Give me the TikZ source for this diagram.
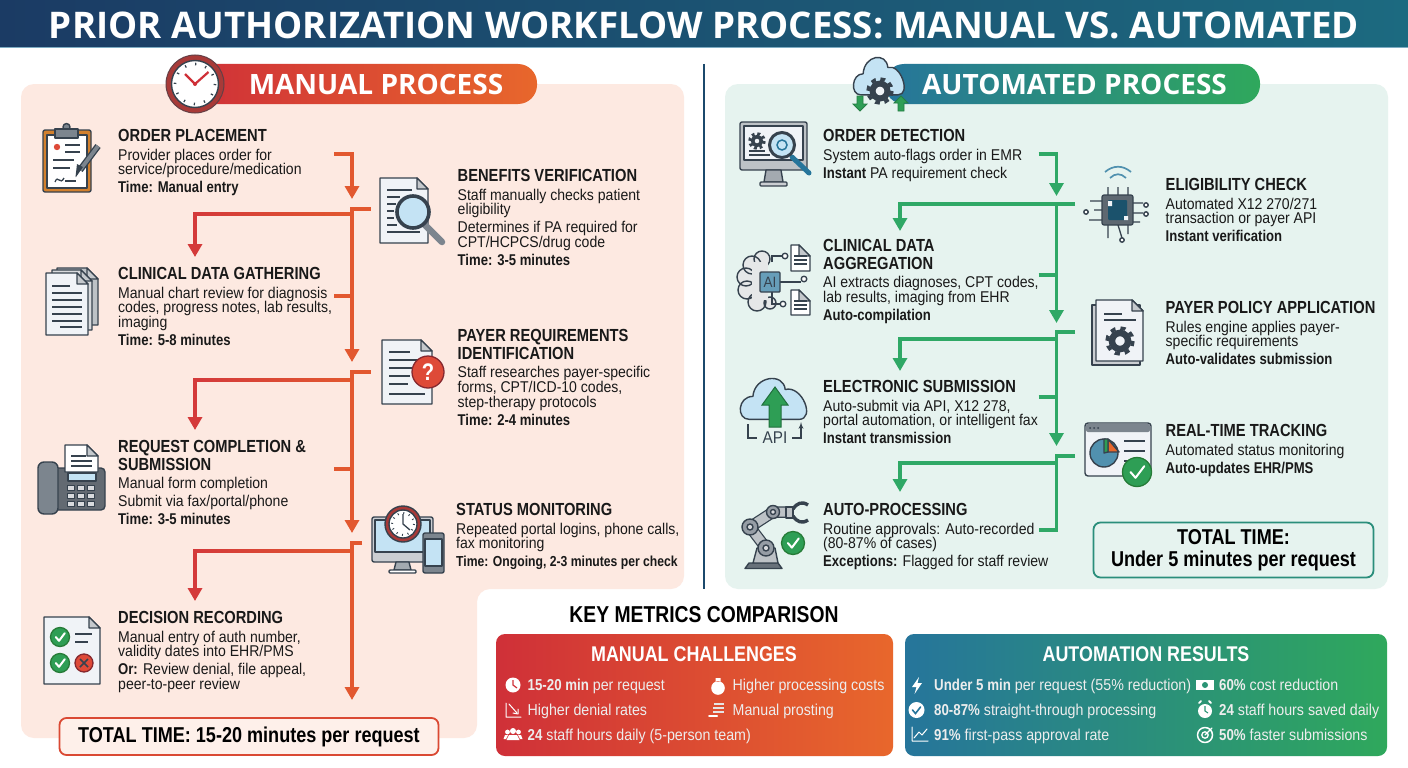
\documentclass[tikz,border=0pt]{standalone}
\usepackage{fontspec}
\setmainfont[FakeStretch=0.90,BoldFeatures={FakeStretch=0.84}]{Liberation Sans}
\newfontfamily\headfont{Open Sans}
\usetikzlibrary{shapes,arrows,arrows.meta}

\definecolor{barleft}{HTML}{1B3B64}
\definecolor{barright}{HTML}{1C6A80}
\definecolor{manred}{HTML}{CF3038}
\definecolor{manorange}{HTML}{E8672C}
\definecolor{autoblue}{HTML}{26759B}
\definecolor{autogreen}{HTML}{2FA85C}
\definecolor{manpanel}{HTML}{FDE9E1}
\definecolor{autopanel}{HTML}{E6F3EF}
\definecolor{lineman}{HTML}{E2582F}
\definecolor{linebranch}{HTML}{D43A3A}
\definecolor{lineauto}{HTML}{2FA866}
\definecolor{icoline}{HTML}{36424E}
\definecolor{icogray}{HTML}{7C858E}
\definecolor{icopage}{HTML}{F0F3F7}
\definecolor{icoblue}{HTML}{C4E3F4}
\definecolor{icogreen}{HTML}{2E9E55}
\definecolor{icored}{HTML}{DE4A38}
\definecolor{clockred}{HTML}{A83A38}

\newcommand{\stitle}[1]{{\fontsize{17.5}{17.5}\selectfont\bfseries #1}}
\newcommand{\stime}[1]{{\bfseries #1}}

\tikzstyle{steptext} = [anchor=north west, align=left, inner sep=0pt, text=black!90, font=\fontsize{15.6}{14.7}\selectfont\lineskiplimit -20pt ]
\tikzstyle{headtext} = [text=white, inner sep=0pt, font=\headfont\bfseries\fontsize{28}{28}\selectfont]
\tikzstyle{boxhead} = [text=white, inner sep=0pt, font=\bfseries\fontsize{21.3}{21.3}\selectfont]
\tikzstyle{metric} = [anchor=base west, inner sep=0pt, text=white!93!black, font=\fontsize{15.8}{15.8}\selectfont]
\tikzstyle{totalbox} = [rectangle, draw, rounded corners=7, line width=1.8, inner sep=0pt, align=center, font=\bfseries\fontsize{21.5}{22}\selectfont\lineskiplimit -20pt ]
\tikzstyle{lman} = [draw=lineman, line width=3.4, -{Triangle[length=13,width=14]}]
\tikzstyle{lbranch} = [draw=linebranch, line width=3.4, -{Triangle[length=13,width=14]}]
\tikzstyle{lauto} = [draw=lineauto, line width=3.2, -{Triangle[length=13,width=14]}]
\tikzstyle{stubman} = [draw=lineman, line width=3.4]
\tikzstyle{stubauto} = [draw=lineauto, line width=3.2]
\tikzstyle{ico} = [draw=icoline, line width=1.4, line join=round]
\tikzstyle{icothin} = [draw=icoline, line width=1.3]
\tikzstyle{wht} = [draw=white, line width=1.4, line cap=round, line join=round]

% page with a folded corner
\newcommand{\pageicon}[5]{
\draw [ico, fill=#5] (#1,#2) -- (#1+#3-11,#2) -- (#1+#3,#2+11) -- (#1+#3,#2+#4) -- (#1,#2+#4) -- cycle;
\draw [ico, fill=icogray!45] (#1+#3-11,#2) -- (#1+#3-11,#2+11) -- (#1+#3,#2+11) -- cycle;
}
% green disc with a tick
\newcommand{\okicon}[3]{
\draw [draw=icoline!70!green, line width=1.3, fill=icogreen] (#1,#2) circle (#3);
\draw [draw=white, line width=2, line cap=round, line join=round] (#1-0.45*#3,#2) -- (#1-0.1*#3,#2+0.4*#3) -- (#1+0.5*#3,#2-0.4*#3);
}
% toothed wheel
\newcommand{\gearicon}[3]{
\draw [draw=icoline, line width=3.5, dash pattern=on {0.393*#3pt} off {0.393*#3pt}] (#1,#2) circle (#3);
\draw [draw=icoline, fill=icopage, line width=0.5*#3] (#1,#2) circle (0.62*#3);
}
% cloud around its centre
\newcommand{\cloudicon}[4]{
\draw [ico, fill=icoblue] (#1-0.75*#3,#2+0.8*#4) .. controls (#1-1.15*#3,#2+0.8*#4) and (#1-1.1*#3,#2-0.2*#4) .. (#1-0.65*#3,#2-0.2*#4) .. controls (#1-0.6*#3,#2-1.1*#4) and (#1+0.25*#3,#2-1.25*#4) .. (#1+0.3*#3,#2-0.5*#4) .. controls (#1+0.8*#3,#2-0.7*#4) and (#1+1.2*#3,#2+0.8*#4) .. (#1+0.7*#3,#2+0.8*#4) -- cycle;
}

\begin{document}
\begin{tikzpicture}[x=1pt,y=-1pt]
\useasboundingbox (0,0) rectangle (1408,768);

% backgrounds
\path [fill=white] (0,0) rectangle (1408,768);
\shade [left color=barleft, right color=barright] (0,0) rectangle (1408,47);
\fill [autoblue!60!white] (0,47) rectangle (1408,48);
\fill [manpanel, rounded corners=13] (21,84) -- (684,84) -- (684,589) -- (477,589) -- (477,738) -- (21,738) -- cycle;
\fill [autopanel, rounded corners=13] (725,84) rectangle (1388,589);
\draw [draw=barleft!70!barright, line width=2.6] (704,64) -- (704,589);
\shade [left color=manred, right color=manorange, rounded corners=19] (190,64) rectangle (537,104);
\shade [left color=autoblue, right color=autogreen, rounded corners=19] (885,64) rectangle (1260,104);
\shade [left color=manred, right color=manorange, rounded corners=9] (496,634) rectangle (893,756);
\shade [left color=autoblue, right color=autogreen, rounded corners=9] (905,634) rectangle (1387,756);

\node [headtext, font=\headfont\bfseries\fontsize{36.7}{36.7}\selectfont] (title) at (704,25) {PRIOR AUTHORIZATION WORKFLOW PROCESS: MANUAL VS. AUTOMATED};
\node [headtext] (man_head) at (376,84) {MANUAL PROCESS};
\node [headtext] (auto_head) at (1074.5,84) {AUTOMATED PROCESS};

% manual steps
\node [steptext] (order) at (118,129) {\stitle{ORDER PLACEMENT}\\[3.9pt]Provider places order for\\service/procedure/medication\\[3.3pt]\stime{Time: Manual entry}};
\node [steptext] (clinical) at (118,267) {\stitle{CLINICAL DATA GATHERING}\\[3.9pt]Manual chart review for diagnosis\\codes, progress notes, lab results,\\imaging\\[3.3pt]\stime{Time: 5-8 minutes}};
\node [steptext] (request) at (118,440) {\stitle{REQUEST COMPLETION \&}\\[3.2pt]\stitle{SUBMISSION}\\[3.9pt]Manual form completion\\[3.3pt]Submit via fax/portal/phone\\[3.3pt]\stime{Time: 3-5 minutes}};
\node [steptext] (decision) at (118,611) {\stitle{DECISION RECORDING}\\[3.9pt]Manual entry of auth number,\\validity dates into EHR/PMS\\[3.3pt]\stime{Or:} Review denial, file appeal,\\peer-to-peer review};
\node [steptext] (benefits) at (457.5,169) {\stitle{BENEFITS VERIFICATION}\\[3.9pt]Staff manually checks patient\\eligibility\\[3.3pt]Determines if PA required for\\CPT/HCPCS/drug code\\[3.3pt]\stime{Time: 3-5 minutes}};
\node [steptext] (payer) at (457.5,329) {\stitle{PAYER REQUIREMENTS}\\[3.2pt]\stitle{IDENTIFICATION}\\[3.9pt]Staff researches payer-specific\\forms, CPT/ICD-10 codes,\\step-therapy protocols\\[3.3pt]\stime{Time: 2-4 minutes}};
\node [steptext] (status) at (456,503) {\stitle{STATUS MONITORING}\\[3.9pt]Repeated portal logins, phone calls,\\fax monitoring\\[3.3pt]{\fontsize{14.5}{14.7}\selectfont\stime{Time: Ongoing, 2-3 minutes per check}}};

% automated steps
\node [steptext] (detect) at (823,129) {\stitle{ORDER DETECTION}\\[3.9pt]System auto-flags order in EMR\\[3.3pt]\stime{Instant} PA requirement check};
\node [steptext] (aggreg) at (823,239) {\stitle{CLINICAL DATA}\\[3.2pt]\stitle{AGGREGATION}\\[3.9pt]AI extracts diagnoses, CPT codes,\\lab results, imaging from EHR\\[3.3pt]\stime{Auto-compilation}};
\node [steptext] (submit) at (823,380) {\stitle{ELECTRONIC SUBMISSION}\\[3.9pt]Auto-submit via API, X12 278,\\portal automation, or intelligent fax\\[3.3pt]\stime{Instant transmission}};
\node [steptext] (autoproc) at (823,503) {\stitle{AUTO-PROCESSING}\\[3.9pt]Routine approvals: Auto-recorded\\(80-87\% of cases)\\[3.3pt]\stime{Exceptions:} Flagged for staff review};
\node [steptext] (elig) at (1165.5,178) {\stitle{ELIGIBILITY CHECK}\\[3.9pt]Automated X12 270/271\\transaction or payer API\\[3.3pt]\stime{Instant verification}};
\node [steptext] (policy) at (1165.5,301) {\stitle{PAYER POLICY APPLICATION}\\[3.9pt]Rules engine applies payer-\\specific requirements\\[3.3pt]\stime{Auto-validates submission}};
\node [steptext] (track) at (1165.5,424) {\stitle{REAL-TIME TRACKING}\\[3.9pt]Automated status monitoring\\[3.3pt]\stime{Auto-updates EHR/PMS}};

% totals
\node [totalbox, draw=manred!55!manorange, fill=manpanel!70!white, minimum width=379, minimum height=37] (total_man) at (249,736.5) {TOTAL TIME: 15-20 minutes per request};
\node [totalbox, draw=autoblue!50!autogreen, fill=autopanel, minimum width=280, minimum height=55] (total_auto) at (1233.5,550) {TOTAL TIME:\\Under 5 minutes per request};

% metrics
\node [font=\bfseries\fontsize{23}{23}\selectfont, inner sep=0pt] (metrics) at (704,615) {KEY METRICS COMPARISON};
\node [boxhead] (challenges) at (694,654) {MANUAL CHALLENGES};
\node [boxhead] (results) at (1146,654) {AUTOMATION RESULTS};
\node [metric] (m1) at (527.5,690.5) {\textbf{15-20 min} per request};
\node [metric] (m2) at (527.5,715.5) {Higher denial rates};
\node [metric] (m3) at (527.5,740.5) {\textbf{24} staff hours daily (5-person team)};
\node [metric] (m4) at (732.5,690.5) {Higher processing costs};
\node [metric] (m5) at (732.5,715.5) {Manual prosting};
\node [metric] (r1) at (934,690.5) {\textbf{Under 5 min} per request (55\% reduction)};
\node [metric] (r2) at (934,715.5) {\textbf{80-87\%} straight-through processing};
\node [metric] (r3) at (934,740.5) {\textbf{91\%} first-pass approval rate};
\node [metric] (r4) at (1219,690.5) {\textbf{60\%} cost reduction};
\node [metric] (r5) at (1219,715.5) {\textbf{24} staff hours saved daily};
\node [metric] (r6) at (1219,740.5) {\textbf{50\%} faster submissions};

% connector ends, manual side
\coordinate (order_out) at (334,154);
\coordinate (benefits_in) at (352,199);
\coordinate (benefits_out) at (370.5,209);
\coordinate (payer_in) at (352,362);
\coordinate (fork1) at (352,214);
\coordinate (clinical_in) at (195,257);
\coordinate (clinical_out) at (334,296);
\coordinate (join1) at (352,296);
\coordinate (payer_out) at (370.5,372);
\coordinate (status_in) at (352,533);
\coordinate (fork2) at (352,380);
\coordinate (request_in) at (195,430);
\coordinate (request_out) at (334,469);
\coordinate (join2) at (352,469);
\coordinate (status_out) at (362,543);
\coordinate (total_in) at (352,700);
\coordinate (fork3) at (352,551);
\coordinate (decision_in) at (195,601);

% connector ends, automated side
\coordinate (detect_out) at (1038.5,154);
\coordinate (elig_in) at (1056.5,196);
\coordinate (elig_out) at (1075,204);
\coordinate (policy_in) at (1056.5,323);
\coordinate (fork4) at (1056.5,204);
\coordinate (aggreg_in) at (900,231);
\coordinate (aggreg_out) at (1038.5,275);
\coordinate (join4) at (1056.5,275);
\coordinate (policy_out) at (1075,332);
\coordinate (track_in) at (1056.5,446);
\coordinate (fork5) at (1056.5,339);
\coordinate (submit_in) at (900,371);
\coordinate (submit_out) at (1038.5,397);
\coordinate (join5) at (1056.5,397);
\coordinate (track_out) at (1075,456);
\coordinate (proc_corner) at (1056.5,530);
\coordinate (proc_out) at (1038.5,530);
\coordinate (fork6) at (1056.5,463);
\coordinate (proc_in) at (900,492);

% arrows
\path [lman] (order_out) -| (benefits_in);
\path [lman] (benefits_out) -| (payer_in);
\path [lbranch] (fork1) -| (clinical_in);
\path [stubman] (clinical_out) -- (join1);
\path [lman] (payer_out) -| (status_in);
\path [lbranch] (fork2) -| (request_in);
\path [stubman] (request_out) -- (join2);
\path [lman] (status_out) -| (total_in);
\path [lbranch] (fork3) -| (decision_in);

\shade [left color=linebranch, right color=lineman] (200,212.3) rectangle (352,215.7);
\shade [left color=linebranch, right color=lineman] (200,378.3) rectangle (352,381.7);
\shade [left color=linebranch, right color=lineman] (200,549.3) rectangle (352,552.7);

\path [lauto] (detect_out) -| (elig_in);
\path [lauto] (elig_out) -| (policy_in);
\path [lauto] (fork4) -| (aggreg_in);
\path [stubauto] (aggreg_out) -- (join4);
\path [lauto] (policy_out) -| (track_in);
\path [lauto] (fork5) -| (submit_in);
\path [stubauto] (submit_out) -- (join5);
\path [stubauto] (track_out) -| (proc_corner) -- (proc_out);
\path [lauto] (fork6) -| (proc_in);

% header icons
\draw [draw=icoline!60!clockred, line width=1, fill=clockred] (195,84) circle (29);
\draw [ico, fill=white] (195,84) circle (23.5);
\draw [draw=icoline, line width=2.6, dash pattern=on 1.2pt off 9.27pt] (195,84) circle (20);
\draw [draw=manred, line width=2.2, line join=round] (185,74) -- (195,84) -- (208.5,72);
\fill [manred] (195,84) circle (2);

\cloudicon{880}{78}{26}{21}
\gearicon{880}{91}{12}
\draw [draw=icogreen!80!black, fill=icogreen, line width=0.8] (857,96) -- (857,104) -- (853,104) -- (860,111) -- (867,104) -- (863,104) -- (863,96) -- cycle;
\draw [draw=icogreen!80!black, fill=icogreen, line width=0.8] (898,111) -- (898,103) -- (894,103) -- (901,96) -- (908,103) -- (904,103) -- (904,111) -- cycle;

% clipboard
\draw [ico, fill=brown!70!orange, rounded corners=2] (43,130) rectangle (91,192);
\draw [ico, fill=white] (47,135) rectangle (87,188);
\draw [ico, fill=icogray] (66.5,127) circle (3.5);
\draw [ico, fill=icogray] (55,129) rectangle (78,138);
\fill [icored] (57,147) circle (3.2);
\draw [icothin] (65,145) -- (80,145) (65,152) -- (80,152) (53,160) -- (74,160) (53,168) -- (70,168) (65,181) -- (76,181);
\draw [icothin] (55,182) .. controls (58,174) and (60,186) .. (64,178);
\draw [draw=icoline, line width=6.5] (98,146) -- (80,170);
\draw [draw=icogray, line width=3.8] (98,146) -- (80,170);
\fill [icoline] (83,167) -- (76,177) -- (75.5,177) -- (77,164) -- cycle;

% page stack
\pageicon{57}{268}{41}{57}{icogray!50}
\pageicon{52}{270}{40}{60}{icogray!30}
\pageicon{46}{273}{42}{62}{icopage}
\draw [icothin] (52,286) -- (70,286) (52,293) -- (82,293) (52,300) -- (82,300) (52,307) -- (82,307) (52,314) -- (82,314) (52,321) -- (82,321) (60,327) -- (82,327);

% fax
\draw [ico, fill=icogray!80!black, rounded corners=4] (48,468) rectangle (105,510);
\pageicon{65}{445}{33}{27}{white}
\draw [icothin] (71,456) -- (86,456) (71,461) -- (92,461) (71,466) -- (92,466);
\draw [ico, fill=icogray, rounded corners=6] (38,462) rectangle (58,514);
\draw [ico, fill=icoblue] (68,473) rectangle (96,481);
\draw [ico, fill=icogray!30, line width=1] (67,485) rectangle (74,490) (77,485) rectangle (84,490) (87,485) rectangle (94,490) (67,493) rectangle (74,498) (77,493) rectangle (84,498) (87,493) rectangle (94,498) (67,501) rectangle (74,506) (77,501) rectangle (84,506) (87,501) rectangle (94,506);

% checklist
\pageicon{44}{617}{56}{67}{icopage}
\okicon{60}{637}{9.5}
\okicon{60}{663}{9.5}
\draw [draw=icoline!60!red, line width=1.3, fill=icored] (84,663) circle (9);
\draw [draw=icoline, line width=1.5] (80,659) -- (88,667) (88,659) -- (80,667);
\draw [icothin] (75,634) -- (92,634) (75,642) -- (88,642);

% page and lens
\pageicon{380}{178}{48}{65}{icopage}
\draw [icothin] (387,190) -- (412,190) (387,197) -- (400,197) (387,204) -- (396,204) (387,211) -- (394,211) (387,218) -- (394,218) (387,225) -- (397,225) (387,232) -- (420,232);
\draw [draw=icogray, line width=6.5, line cap=round] (425,225) -- (442,242);
\draw [draw=icoline, line width=3.6, fill=icoblue] (413,212) circle (16);

% page and question
\pageicon{382}{340}{50}{64}{icopage}
\draw [icothin] (389,352) -- (410,352) (389,360) -- (420,360) (389,368) -- (412,368) (389,376) -- (410,376) (389,384) -- (408,384) (389,394) -- (425,394);
\draw [draw=icoline!60!red, line width=1.3, fill=icored] (428,372) circle (16);
\node [text=white, inner sep=0pt, font=\bfseries\fontsize{24}{24}\selectfont] (ask) at (428,372) {?};

% monitor, clock, phone
\draw [ico, fill=icogray!40, rounded corners=2] (372,517) rectangle (433,562);
\draw [ico, fill=icoblue] (375,520) rectangle (430,552);
\draw [ico, fill=icogray!70] (396,562) -- (409,562) -- (411,570) -- (394,570) -- cycle;
\draw [ico, fill=white, rounded corners=1] (389,570) rectangle (416,573);
\draw [ico, fill=clockred] (403,524) circle (18);
\draw [ico, fill=white] (403,524) circle (14);
\draw [draw=icoline, line width=2, dash pattern=on 0.9pt off 4.86pt] (403,524) circle (11);
\draw [draw=icoline, line width=1.3] (403,514) -- (403,524) -- (410,530);
\draw [ico, fill=icogray, rounded corners=2] (423,533) rectangle (444,573);
\draw [ico, fill=icoblue] (425,539) rectangle (442,566);

% monitor and lens
\draw [ico, fill=icogray!50, rounded corners=2] (740,122) rectangle (807,170);
\draw [ico, fill=icopage] (744,126) rectangle (803,160);
\draw [ico, fill=icogray!70] (766,170) -- (781,170) -- (783,182) -- (764,182) -- cycle;
\draw [ico, fill=icogray!40, rounded corners=1] (760,182) rectangle (787,186);
\gearicon{757}{141}{7}
\draw [icothin] (749,155) -- (770,155) (749,151) -- (765,151);
\draw [draw=autoblue, line width=5, line cap=round] (792,157) -- (809,173);
\draw [draw=icoline, line width=3, fill=icoblue] (782,145) circle (12.5);
\draw [draw=autoblue, line width=1.5] (782,145) circle (5);

% brain and chip
\draw [ico, fill=icogray!20] (752,265) circle (9) (746,277) circle (9) (747,290) circle (9) (757,302) circle (9) (762,259) circle (8) (770,303) circle (6);
\fill [icogray!20] (752,262) rectangle (768,300);
\draw [icothin] (772,262) -- (772,256) -- (782,256) (780,282) -- (801,282) (772,292) -- (772,304) -- (780,304);
\draw [ico, fill=white] (785,256) circle (2.8) (804,279) circle (2.8) (783,304) circle (2.8);
\draw [draw=icoline, fill=autoblue!70!white, line width=1.4, rounded corners=1] (760,272) rectangle (780,292);
\node [text=icoline, inner sep=0pt, font=\fontsize{15}{15}\selectfont] (ai) at (770,282) {AI};
\pageicon{791}{245}{19}{26}{white}
\pageicon{791}{290}{19}{25}{white}
\draw [icothin] (794,256) -- (807,256) (794,260) -- (807,260) (794,264) -- (807,264) (794,301) -- (807,301) (794,305) -- (807,305) (794,309) -- (807,309);

% cloud and upload
\cloudicon{775}{401}{34}{23}
\draw [draw=icogreen!70!black, fill=icogreen, line width=1] (769,427) -- (769,405) -- (762,405) -- (775,387) -- (788,405) -- (781,405) -- (781,427) -- cycle;
\node [text=icoline, inner sep=0pt, font=\fontsize{17}{17}\selectfont] (api) at (775,438) {API};
\draw [icothin] (748,424) -- (748,438) -- (757,438);
\draw [draw=icoline, line width=1.3, -latex'] (792,438) -- (801,438) -- (801,422);

% robot arm
\draw [ico, fill=icoline!75] (745,568.5) -- (749,563) -- (778,563) -- (782,568.5) -- cycle;
\draw [ico, fill=icogray!50] (753,563) -- (757,548) -- (775,548) -- (778,563) -- cycle;
\draw [draw=icoline, line width=11.5, line cap=round] (766,548) -- (750,527) -- (773,512) -- (786,512);
\draw [draw=icogray!50, line width=9, line cap=round] (766,548) -- (750,527) -- (773,512) -- (786,512);
\draw [ico, fill=icogray!80] (766,548) circle (8) (750,527) circle (8) (773,512) circle (6.5);
\draw [ico, fill=white!70!icogray] (766,548) circle (3) (750,527) circle (3) (773,512) circle (2.5);
\draw [ico, fill=icogray!50] (786,507) rectangle (793,518);
\draw [draw=icoline, line width=3.4] (793,509) .. controls (797,503) and (802,501) .. (808,505) (793,516) .. controls (797,522) and (802,524) .. (808,520);
\okicon{793}{543}{11.5}

% chip
\draw [draw=autoblue!80!white, line width=1.7] (1105,172) .. controls (1113,165) and (1123,165) .. (1131,172) (1110,178) .. controls (1115,173) and (1121,173) .. (1126,178);
\draw [icothin] (1108,187) -- (1108,195) (1118,187) -- (1118,195) (1128,187) -- (1128,195) (1108,225) -- (1108,238) (1118,225) -- (1122,238) (1128,225) -- (1128,234) (1090,201) -- (1102,201) (1094,210) -- (1102,210) (1089,220) -- (1102,220) (1133,203) -- (1143,203) (1133,213) -- (1143,213) (1133,222) -- (1140,222);
\draw [ico, fill=white] (1086,212) circle (2.2) (1146,205) circle (2.2) (1146,214) circle (2.2) (1122,240) circle (2.2);
\draw [ico, fill=icoline!80!white, rounded corners=2, line width=1.2] (1102,195) rectangle (1133,225);
\fill [autoblue!70!black, rounded corners=1] (1108,200) rectangle (1127,220);
\fill [icopage] (1108,201) rectangle (1112,206) (1124,216) rectangle (1128,220);

% page and gear
\draw [ico, fill=icogray!40] (1092,305) rectangle (1140,365);
\pageicon{1096}{300}{47}{61}{icopage}
\draw [draw=icoline, line width=1.6] (1104,314) -- (1122,314) (1104,320) -- (1136,320);
\gearicon{1120}{341}{13}

% dashboard
\draw [ico, fill=icopage, rounded corners=3] (1085,423) rectangle (1151,476);
\fill [icogray, rounded corners=2] (1086,424) rectangle (1150,432);
\fill [icoline] (1090,428) circle (1) (1094,428) circle (1) (1098,428) circle (1);
\draw [ico, fill=autoblue!80!white] (1104,453) circle (14);
\draw [ico, fill=manorange] (1108,452) -- (1108,439) -- (1119,452) -- cycle;
\draw [ico, fill=icogreen] (1104,453) -- (1104,439) -- (1108,439) -- (1108,452) -- cycle;
\draw [icothin] (1124,441) -- (1145,441) (1124,451) -- (1145,451) (1124,461) -- (1134,461);
\okicon{1137}{472}{14.5}

% small icons in the metric boxes
\fill [white] (513,685) circle (7.5);
\draw [draw=manred, line width=1.2] (513,680) -- (513,685) -- (517,688);
\draw [wht, line width=1] (506,703) -- (506,717) -- (521,717) (509,704) -- (517,713);
\draw [wht, line width=1] (513,713) -- (518,714) -- (518,709);
\fill [white] (513,731) circle (3) (507.5,732) circle (2.4) (518.5,732) circle (2.4) (506.5,740) -- (509,735) -- (517,735) -- (519.5,740) -- cycle (503.5,739) -- (505,735) -- (508,735) -- (506,739) -- cycle (522.5,739) -- (521,735) -- (518,735) -- (520,739) -- cycle;
\fill [white] (718,688) circle (6.8) (715.5,678) rectangle (720.5,682);
\draw [draw=white!90!black, line width=2.6] (714,704) -- (724,704) (713,708) -- (724,708) (713,712) -- (724,712);
\draw [wht, line width=2] (709,716) -- (717,716);
\fill [white] (919,677) -- (912,687) -- (916.5,687) -- (914.5,694) -- (922,683) -- (917.5,683) -- cycle;
\fill [white] (916.5,710) circle (8);
\draw [draw=autoblue, line width=1.6, line cap=round] (912.5,710) -- (915.5,713.5) -- (920.5,707);
\draw [wht, line width=1] (912,727) -- (912,741) -- (928,741) (914,738) -- (919,732) -- (922,735) -- (927,729);
\fill [white] (1196,680) rectangle (1214,690);
\fill [autogreen!60!autoblue] (1205,685) circle (3);
\fill [white] (1205,711) circle (7);
\draw [wht, line width=1.8] (1199,703) -- (1201,701) (1211,703) -- (1209,701);
\draw [draw=autogreen!60!autoblue, line width=1.1] (1205,706) -- (1205,711) -- (1208,713);
\draw [wht, line width=1.5] (1205,735) circle (7.5);
\draw [wht, line width=1.3] (1205,735) circle (3.2) (1205,735) -- (1212,728);
\end{tikzpicture}
\end{document}
